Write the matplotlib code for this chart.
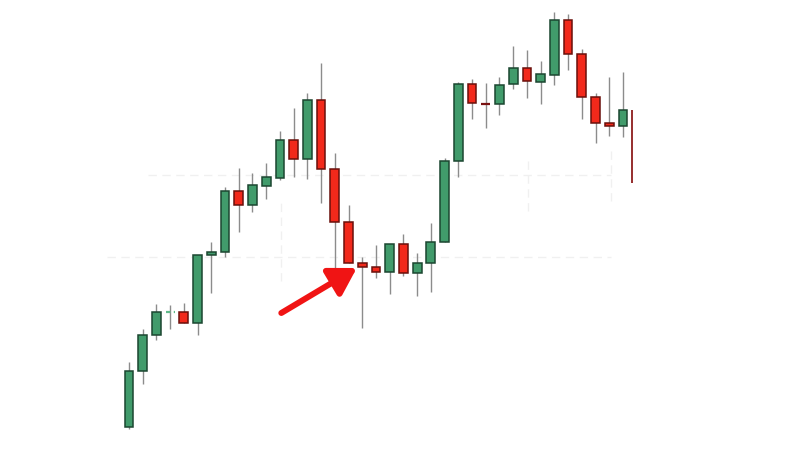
import numpy as np
import matplotlib.pyplot as plt

# candle data (open, high, low, close)
opens = [24, 80, 116, 139, 139, 128, 196, 199, 260, 246, 265, 273, 311, 292, 351, 282,
         229, 188, 184, 179, 207, 178, 188, 209, 290, 367, 347, 347, 367, 383, 369, 376,
         431, 397, 354, 328, 325]
highs = [89, 122, 147, 146, 148, 196, 209, 264, 283, 278, 288, 320, 343, 358, 388, 298,
         246, 194, 206, 207, 217, 198, 228, 293, 369, 372, 368, 374, 405, 401, 390, 439,
         437, 402, 358, 374, 379]
lows = [22, 67, 111, 122, 128, 116, 158, 194, 219, 239, 252, 271, 274, 272, 248, 181,
        188, 123, 173, 157, 175, 155, 159, 209, 274, 332, 323, 336, 362, 353, 347, 366,
        381, 332, 308, 315, 314]
closes = [80, 116, 139, 139, 128, 196, 199, 260, 246, 266, 274, 311, 292, 351, 282, 229,
          188, 184, 179, 207, 178, 188, 209, 290, 367, 348, 347, 366, 383, 370, 377, 431,
          397, 354, 328, 325, 341]

# last candle is cut off at the right edge, only its wick shows
cut_x = 36.65
cut_high, cut_low = 341, 268

target = 17  # candle the arrow points at

green = '#419b6b'
green_edge = '#1b4630'
red = '#f2291b'
red_edge = '#6a100b'
wick = '#8c8c8c'
grid_c = '#f0f0f0'

fig = plt.figure(figsize=(8, 4.51), dpi=100)
ax = fig.add_axes([0, 0, 1, 1])
ax.set_xlim(-9.4, 48.9)
ax.set_ylim(0, 451)
ax.axis('off')

# faint background grid
ax.hlines([276, 194], [1.4, -1.6], [35.1, 35.1], colors=grid_c, linestyles=(0, (6, 4)), lw=1, zorder=0)
ax.vlines([11.1, 29.1, 35.1], [170, 240, 250], [250, 295, 300], colors=grid_c, linestyles=(0, (6, 4)), lw=1, zorder=0)

x = np.arange(len(opens))
w = 0.64
for i in x:
    o, h, l, c = opens[i], highs[i], lows[i], closes[i]
    ax.vlines(i, l, h, colors=wick, lw=1.0, zorder=1)
    if o == c:
        col = '#5fb98a' if i < 10 else '#7a1212'
        ls = (0, (2, 1.5)) if i < 10 else '-'
        ax.hlines(o, i - w / 2, i + w / 2, colors=col, lw=1.6, linestyles=ls, zorder=2)
        continue
    up = c > o
    ax.bar(i, abs(c - o), bottom=min(o, c), width=w,
           color=green if up else red, edgecolor=green_edge if up else red_edge,
           lw=1.1, zorder=2)

ax.vlines(cut_x, cut_low, cut_high, colors='#8e1c1c', lw=1.3, zorder=2)

# red arrow pointing to the small candle after the drop
tip = (target - 0.4, min(opens[target], closes[target]) - 1)
tail = (tip[0] - 5.5, tip[1] - 45)
ax.annotate('', xy=tip, xytext=tail,
            arrowprops=dict(arrowstyle='-|>,head_length=1.0,head_width=0.6',
                            color='#f01414', lw=4.3, mutation_scale=16,
                            shrinkA=0, shrinkB=0), zorder=5)

fig.savefig('out.png', dpi=100, facecolor='white')
